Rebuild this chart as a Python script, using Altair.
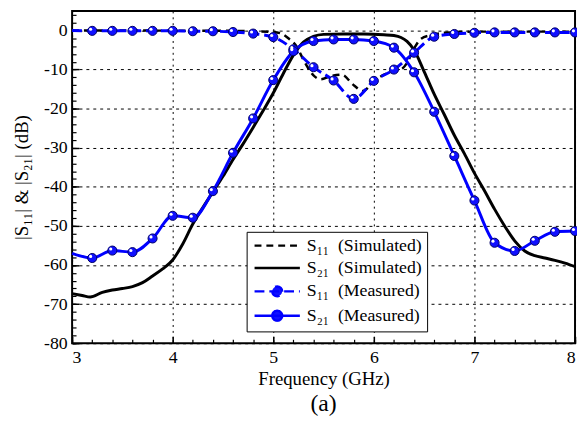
import altair as alt
import pandas as pd

# ---------------- data ----------------
freq_s11_sim = [3.0, 4.0, 4.6, 4.8, 5.0, 5.08, 5.15, 5.23, 5.3, 5.4, 5.47, 5.57, 5.68, 5.8,
                5.89, 6.0, 6.1, 6.2, 6.27, 6.33, 6.4, 6.47, 6.57, 6.7, 7.0, 7.5, 8.0]
s11_sim = [0, -0.05, -0.1, -0.2, -0.4, -0.8, -2.0, -4.0, -7.5, -11.5, -12.5, -11.7, -11.3, -14.0,
           -15.5, -13.0, -11.3, -10.5, -10.0, -8.3, -4.6, -2.1, -1.2, -0.6, -0.3, -0.3, -0.3]

freq_s21_sim = [3.0, 3.1, 3.18, 3.3, 3.4, 3.5, 3.6, 3.7, 3.8, 3.9, 4.0, 4.1, 4.2, 4.3, 4.4, 4.5,
                4.6, 4.7, 4.8, 4.9, 5.0, 5.1, 5.2, 5.3, 5.4, 5.5, 5.7, 5.9, 6.1, 6.2, 6.27, 6.33,
                6.4, 6.5, 6.6, 6.7, 6.8, 6.9, 7.0, 7.1, 7.2, 7.3, 7.4, 7.5, 7.6, 7.7, 7.8, 7.9, 8.0]
s21_sim = [-67.3, -67.8, -68.2, -67.0, -66.4, -66.0, -65.5, -64.5, -62.8, -61.0, -58.7, -54.6,
           -49.5, -45.3, -41.3, -37.3, -33.0, -29.0, -24.8, -20.5, -16.0, -11.0, -6.3, -3.0, -1.5,
           -1.0, -0.9, -0.9, -1.1, -1.3, -1.8, -2.8, -5.0, -10.5, -16.3, -21.5, -26.8, -31.5,
           -36.5, -41.0, -45.7, -50.0, -53.8, -56.4, -57.6, -58.2, -58.8, -59.5, -60.4]

freq_meas = [3.0, 3.2, 3.4, 3.6, 3.8, 4.0, 4.2, 4.4, 4.6, 4.8, 5.0, 5.2, 5.4, 5.6, 5.8, 6.0,
             6.2, 6.4, 6.6, 6.8, 7.0, 7.2, 7.4, 7.6, 7.8, 8.0]
s11_meas = [0, -0.1, -0.1, -0.1, -0.1, -0.1, -0.2, -0.2, -0.4, -0.8, -1.7, -4.8, -9.4, -12.8,
            -17.5, -12.9, -10.0, -5.7, -1.6, -0.9, -0.6, -0.5, -0.5, -0.5, -0.5, -0.5]
s21_meas = [-57.0, -58.2, -56.3, -56.7, -53.2, -47.4, -47.9, -41.1, -31.3, -22.5, -12.7, -5.3,
            -2.7, -2.3, -2.3, -2.7, -4.4, -10.7, -20.8, -32.1, -43.5, -54.3, -56.4, -53.8,
            -51.5, -51.3]

series_names = ["S\u2081\u2081\u00a0 (Simulated)", "S\u2082\u2081\u00a0 (Simulated)",
                "S\u2081\u2081\u00a0 (Measured)", "S\u2082\u2081\u00a0 (Measured)"]

x_major = [3, 4, 5, 6, 7, 8]
x_minor = [round(3 + 0.2 * i, 1) for i in range(26)]
y_major = [-80, -70, -60, -50, -40, -30, -20, -10, 0]
y_minor = list(range(-80, 5, 2))

# ---------------- long-form table ----------------
frames = []
for name, f, v in [(series_names[0], freq_s11_sim, s11_sim),
                   (series_names[1], freq_s21_sim, s21_sim),
                   (series_names[2], freq_meas, s11_meas),
                   (series_names[3], freq_meas, s21_meas)]:
    frames.append(pd.DataFrame({"freq": f, "val": v, "series": name}))
df = pd.concat(frames, ignore_index=True)

FONT = "Liberation Serif"
BLUE = "#0000ff"

xs = alt.Scale(domain=[3, 8], nice=False, zero=False)
ys = alt.Scale(domain=[-80, 5], nice=False, zero=False)


def X(axis=None):
    return alt.X("freq:Q", scale=xs, axis=axis)


def Y(axis=None):
    return alt.Y("val:Q", scale=ys, axis=axis)


base = alt.Chart(df)

# axis carrier layers
ax_main = base.mark_point(opacity=0).encode(
    x=X(alt.Axis(orient="bottom", values=x_major, format="d", grid=True, ticks=False,
                 domain=False, labelFont=FONT, labelFontSize=18, labelColor="black",
                 labelPadding=6, gridColor="#000", gridDash=[2, 4], gridWidth=1,
                 title="Frequency (GHz)", titleFont=FONT, titleFontSize=19,
                 titleFontWeight="normal", titleColor="black", titlePadding=3)),
    y=Y(alt.Axis(orient="left", values=y_major, labelExpr="datum.value + ''", grid=True,
                 ticks=False, domain=False, labelFont=FONT, labelFontSize=18,
                 labelColor="black", labelPadding=5, gridColor="#000", gridDash=[3, 4],
                 gridWidth=1, title="|S\u2081\u2081| & |S\u2082\u2081| (dB)", titleFont=FONT,
                 titleFontSize=19, titleFontWeight="normal", titleColor="black",
                 titlePadding=12)),
)
ax_y_major = base.mark_point(opacity=0).encode(
    x=X(None),
    y=Y(alt.Axis(orient="right", offset=-510, values=y_major, labels=False, grid=False,
                 domain=False, ticks=True, tickSize=7, tickWidth=1.5, tickColor="black",
                 title=None)),
)
ax_y_minor = base.mark_point(opacity=0).encode(
    x=X(None),
    y=Y(alt.Axis(orient="right", offset=-510, values=y_minor, labels=False, grid=False,
                 domain=False, ticks=True, tickSize=4, tickWidth=1.2, tickColor="black",
                 title=None)),
)
ax_x_major = base.mark_point(opacity=0).encode(
    x=X(alt.Axis(orient="top", offset=-337, values=x_major, labels=False, grid=False,
                 domain=False, ticks=True, tickSize=7, tickWidth=1.5, tickColor="black",
                 title=None)),
    y=Y(None),
)
ax_x_minor = base.mark_point(opacity=0).encode(
    x=X(alt.Axis(orient="top", offset=-337, values=x_minor, labels=False, grid=False,
                 domain=False, ticks=True, tickSize=4, tickWidth=1.2, tickColor="black",
                 title=None)),
    y=Y(None),
)

# data layers
def sel(name):
    return alt.datum.series == name

l_s11_sim = base.transform_filter(sel(series_names[0])).mark_line(
    color="black", strokeDash=[7, 5], strokeWidth=2.5, interpolate="monotone"
).encode(x=X(), y=Y())
l_s21_sim = base.transform_filter(sel(series_names[1])).mark_line(
    color="black", strokeWidth=3, interpolate="monotone"
).encode(x=X(), y=Y())
l_s11_meas = base.transform_filter(sel(series_names[2])).mark_line(
    color=BLUE, strokeDash=[10, 5], strokeWidth=3, interpolate="monotone"
).encode(x=X(), y=Y())
l_s21_meas = base.transform_filter(sel(series_names[3])).mark_line(
    color=BLUE, strokeWidth=3, interpolate="monotone"
).encode(x=X(), y=Y())

meas_pts = base.transform_filter(
    (alt.datum.series == series_names[2]) | (alt.datum.series == series_names[3])
).transform_filter(alt.datum.freq > 3.1)
markers = meas_pts.mark_point(filled=True, size=85, fill="#1010ff", stroke="#000066",
                              strokeWidth=1, opacity=1).encode(x=X(), y=Y())
shine = meas_pts.mark_point(filled=True, size=10, color="white", opacity=1,
                            xOffset=-1.6, yOffset=-1.6).encode(x=X(), y=Y())

# legend carrier layer
line_path = "M-4,0L4,0"
line_circ = "M-4,0L4,0M-0.87,0A0.87,0.87,0,1,0,0.87,0A0.87,0.87,0,1,0,-0.87,0Z"
leg = alt.Legend(title=None, orient="none", legendX=177, legendY=224, symbolSize=132,
                 symbolStrokeWidth=2.5, symbolOffset=17, labelOffset=21, labelFont=FONT,
                 labelFontSize=18, labelColor="black", rowPadding=4.7, padding=5,
                 strokeColor="black", fillColor="white", symbolOpacity=1, labelLimit=400)
legend_layer = base.mark_point(opacity=0, filled=True).encode(
    x=X(), y=Y(),
    stroke=alt.Stroke("series:N", scale=alt.Scale(domain=series_names,
                      range=["black", "black", BLUE, BLUE]), legend=leg),
    fill=alt.Fill("series:N", scale=alt.Scale(domain=series_names,
                  range=["transparent", "transparent", "#1010ff", "#1010ff"]), legend=leg),
    shape=alt.Shape("series:N", scale=alt.Scale(domain=series_names,
                    range=[line_path, line_path, line_circ, line_circ]), legend=leg),
    strokeDash=alt.StrokeDash("series:N", scale=alt.Scale(domain=series_names,
                              range=[[7, 5], [1, 0], [10, 5], [1, 0]]), legend=leg),
)

chart = alt.layer(
    ax_main, ax_y_major, ax_y_minor, ax_x_major, ax_x_minor,
    l_s11_sim, l_s21_sim, l_s11_meas, l_s21_meas, markers, shine, legend_layer,
).resolve_axis(x="independent", y="independent").properties(
    width=510, height=337,
    autosize=alt.AutoSizeParams(type="none"),
    padding={"left": 65, "top": 0, "right": 2, "bottom": 83},
    title=alt.TitleParams("(a)", orient="bottom", font=FONT, fontSize=24,
                          fontWeight="normal", color="black", offset=4),
).configure_view(stroke="black", strokeWidth=2)

chart.save("out.html", embed_options={"renderer": "svg", "actions": False})
